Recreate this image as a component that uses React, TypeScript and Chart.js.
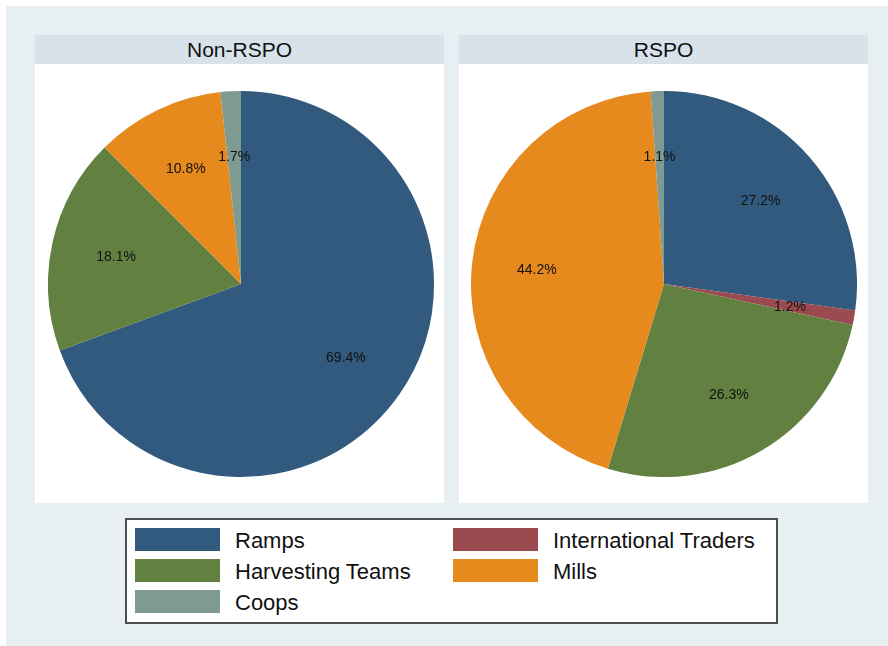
import React, { useEffect, useRef } from "react";
import { Chart, registerables } from "chart.js";

Chart.register(...registerables);

const categories = ["Ramps", "International Traders", "Harvesting Teams", "Mills", "Coops"];
const nonRspoValues = [69.4, 0, 18.1, 10.8, 1.7];
const rspoValues = [27.2, 1.2, 26.3, 44.2, 1.1];
const panelTitles = ["Non-RSPO", "RSPO"];
const sliceColors = ["#32597e", "#9b4a50", "#62803f", "#e68a1e", "#7f9a90"];
const legendOrder = [0, 1, 2, 3, 4];

const FONT = '"Liberation Sans", Arial, Helvetica, sans-serif';

const labelPlugin = {
  id: "pieLabels",
  afterDatasetsDraw(chart: any) {
    const ctx = chart.ctx;
    const meta = chart.getDatasetMeta(0);
    const data = chart.data.datasets[0].data as number[];
    ctx.save();
    ctx.font = `14px ${FONT}`;
    ctx.fillStyle = "#111111";
    ctx.textAlign = "center";
    ctx.textBaseline = "middle";
    meta.data.forEach((arc: any, i: number) => {
      const v = data[i];
      if (!v) return;
      const p = arc.getProps(["startAngle", "endAngle", "outerRadius", "x", "y"], true);
      const mid = (p.startAngle + p.endAngle) / 2;
      const r = p.outerRadius * 0.663;
      ctx.fillText(v.toFixed(1) + "%", p.x + Math.cos(mid) * r, p.y + Math.sin(mid) * r + 1);
    });
    ctx.restore();
  },
};

function Pie({ values, left, top, size }: { values: number[]; left: number; top: number; size: number }) {
  const ref = useRef<HTMLCanvasElement>(null);
  useEffect(() => {
    if (!ref.current) return;
    const chart = new Chart(ref.current, {
      type: "pie",
      data: {
        labels: categories,
        datasets: [
          {
            data: values,
            backgroundColor: sliceColors,
            borderWidth: 0,
          },
        ],
      },
      options: {
        responsive: false,
        animation: false,
        layout: { padding: 0 },
        plugins: {
          legend: { display: false },
          title: { display: false },
          tooltip: { enabled: false },
        },
      },
      plugins: [labelPlugin],
    });
    return () => chart.destroy();
  }, [values]);
  return (
    <canvas
      ref={ref}
      width={size}
      height={size}
      style={{ position: "absolute", left, top, width: size, height: size }}
    />
  );
}

export default function App() {
  const panels = [
    { x: 35, w: 409, cx: 241, values: nonRspoValues, title: panelTitles[0] },
    { x: 459, w: 409, cx: 664, values: rspoValues, title: panelTitles[1] },
  ];
  const R = 193;
  const cy = 284;
  const legendPos = [
    { sx: 135, tx: 235, y: 528 },
    { sx: 453, tx: 553, y: 528 },
    { sx: 135, tx: 235, y: 559 },
    { sx: 453, tx: 553, y: 559 },
    { sx: 135, tx: 235, y: 590 },
  ];
  return (
    <div style={{ position: "fixed", left: 0, top: 0, width: 888, height: 646, background: "#ffffff", fontFamily: FONT }}>
      <div style={{ position: "absolute", left: 6, top: 6, width: 882, height: 640, background: "#e8eff2" }} />
      {panels.map((p, i) => (
        <React.Fragment key={i}>
          <div
            style={{
              position: "absolute",
              left: p.x,
              top: 35,
              width: p.w,
              height: 29,
              background: "#d7e2ea",
              color: "#111",
              fontSize: 21,
              lineHeight: "30px",
              textAlign: "center",
            }}
          >
            {p.title}
          </div>
          <div style={{ position: "absolute", left: p.x, top: 64, width: p.w, height: 439, background: "#ffffff" }} />
          <Pie values={p.values} left={p.cx - R} top={cy - R} size={R * 2} />
        </React.Fragment>
      ))}
      <div
        style={{
          position: "absolute",
          left: 125,
          top: 518,
          width: 653,
          height: 106,
          boxSizing: "border-box",
          border: "2px solid #4d4d4d",
          background: "#ffffff",
        }}
      />
      {legendOrder.map((ci, k) => {
        const pos = legendPos[k];
        return (
          <React.Fragment key={ci}>
            <div
              style={{
                position: "absolute",
                left: pos.sx,
                top: pos.y,
                width: 85,
                height: 23,
                background: sliceColors[ci],
              }}
            />
            <div
              style={{
                position: "absolute",
                left: pos.tx,
                top: pos.y,
                height: 23,
                lineHeight: "25px",
                fontSize: 22,
                color: "#111",
                whiteSpace: "nowrap",
              }}
            >
              {categories[ci]}
            </div>
          </React.Fragment>
        );
      })}
    </div>
  );
}
